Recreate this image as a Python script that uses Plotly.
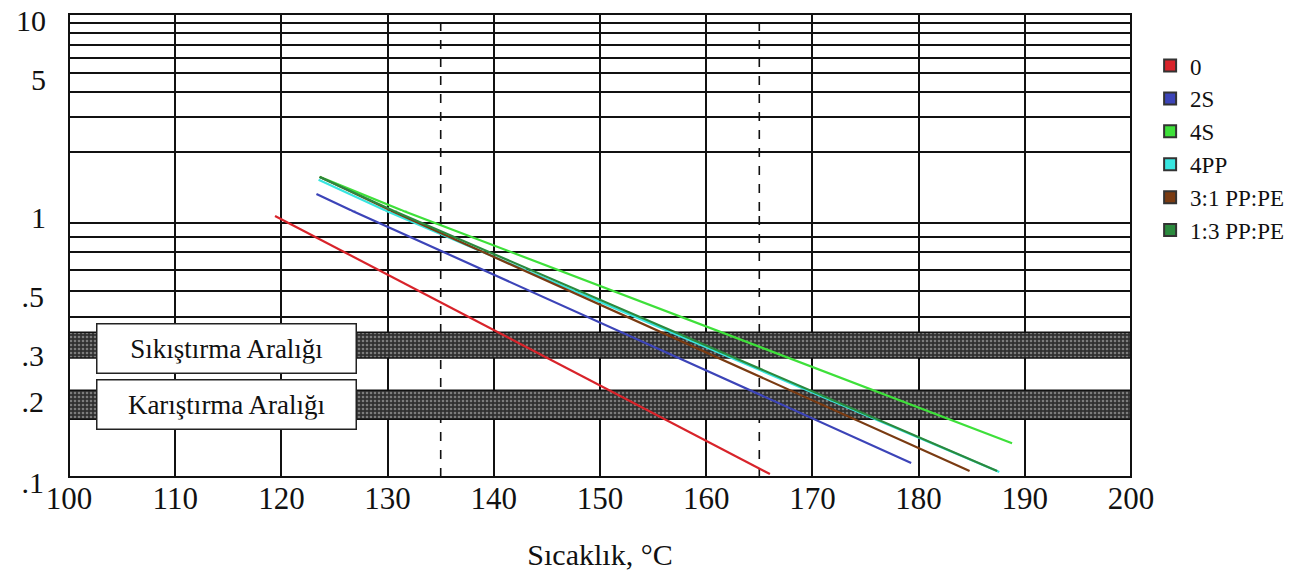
import math
import plotly.graph_objects as go

# ---- data ----
series_names = ["0", "2S", "4S", "4PP", "3:1 PP:PE", "1:3 PP:PE"]
series_colors = ["#d8232a", "#3c44b8", "#3ee03a", "#38e6e0", "#7a3b12", "#2b8a3e"]
# temperature (°C) and value at start, crossing of 1 (where present) and end
x_0 = [119.4, 166.0]
y_0 = [0.958, 0.1026]
x_2s = [123.3, 126.7, 179.3]
y_2s = [1.22, 1.0, 0.113]
x_4s = [123.6, 131.5, 188.8]
y_4s = [1.49, 1.0, 0.134]
x_4pp = [123.5, 129.9, 187.6]
y_4pp = [1.44, 1.0, 0.1044]
x_31 = [123.6, 130.4, 184.8]
y_31 = [1.49, 1.0, 0.1053]
x_13 = [123.6, 130.6, 187.4]
y_13 = [1.49, 1.0, 0.1053]

x_ticks = [100, 110, 120, 130, 140, 150, 160, 170, 180, 190, 200]
y_ticks_low = [0.1, 0.2, 0.3, 0.5]
y_ticktext_low = [".1", ".2", ".3", ".5"]
y_ticks_high = [1, 5, 10]
y_ticktext_high = ["1", "5", "10"]
y_grid_low = [0.1, 0.2, 0.3, 0.4, 0.5, 0.6, 0.7, 0.8, 0.9, 1]
y_grid_high = [1, 2, 3, 4, 5, 6, 7, 8, 9, 10]
dashed_x = [135, 165]

band_names = ["Sıkıştırma Aralığı", "Karıştırma Aralığı"]
band_low = [0.28, 0.165]
band_high = [0.35, 0.212]
band_label_y = [0.305, 0.1866]

xs = [x_0, x_2s, x_4s, x_4pp, x_31, x_13]
ys = [y_0, y_2s, y_4s, y_4pp, y_31, y_13]

FONT = "Liberation Serif"
SPLIT = 266 / 463  # share of height taken by the 0.1–1 decade in the drawing

fig = go.Figure()

# dashed verticals (both decades)
for dx in dashed_x:
    for ya, grid in (("y", y_grid_low), ("y2", y_grid_high)):
        fig.add_trace(go.Scatter(x=[dx, dx], y=[grid[0], grid[-1]], yaxis=ya, mode="lines",
                                 line=dict(color="#111", width=1.6, dash="dash"),
                                 showlegend=False, hoverinfo="skip"))

# hatched bands
for lo, hi in zip(band_low, band_high):
    fig.add_trace(go.Scatter(
        x=[x_ticks[0], x_ticks[-1], x_ticks[-1], x_ticks[0], x_ticks[0]],
        y=[lo, lo, hi, hi, lo],
        mode="lines", fill="toself",
        line=dict(color="#111", width=1.5),
        fillcolor="#3a3a3a",
        fillpattern=dict(shape=".", fgcolor="#c8c8c8", bgcolor="#303030", size=4, solidity=0.35),
        showlegend=False, hoverinfo="skip",
    ))

# series lines (drawn on both decades, each clipped to its own part)
for name, col, xv, yv in zip(series_names, series_colors, xs, ys):
    for ya in ("y", "y2"):
        fig.add_trace(go.Scatter(x=xv, y=yv, yaxis=ya, mode="lines",
                                 line=dict(color=col, width=2.2),
                                 name=name, showlegend=False, hoverinfo="x+y+name"))
    fig.add_trace(go.Scatter(x=[None], y=[None], mode="markers", name=name,
                             marker=dict(symbol="square", size=10, color=col,
                                         line=dict(color="#333", width=0.5))))

# band labels
for name, ly in zip(band_names, band_label_y):
    fig.add_annotation(
        x=0.148, xref="x domain", xanchor="center",
        y=math.log10(ly), yref="y", yanchor="middle",
        text=name, showarrow=False,
        font=dict(family=FONT, size=27, color="#111"),
        bgcolor="white", bordercolor="#222", borderwidth=1.5, borderpad=9,
        width=240,
    )

# outer frame
fig.add_shape(type="rect", xref="paper", yref="paper", x0=0, x1=1, y0=0, y1=1,
              line=dict(color="#111", width=2), layer="above")

grid_common = dict(showgrid=True, gridcolor="#111", gridwidth=2, zeroline=False,
                   automargin=False, showline=False, ticks="",
                   ticklabeloverflow="allow")

fig.update_layout(
    width=1307, height=575,
    margin=dict(l=61, r=184, t=6, b=106),
    plot_bgcolor="white", paper_bgcolor="white",
    font=dict(family=FONT, color="#111"),
    showlegend=True,
    legend=dict(x=1.018, y=0.935, xanchor="left", yanchor="top",
                font=dict(family=FONT, size=23, color="#111"),
                itemsizing="constant"),
    xaxis=dict(range=[100, 200], tickvals=x_ticks, anchor="y",
               tickfont=dict(family=FONT, size=31),
               title=dict(text="Sıcaklık, °C", font=dict(family=FONT, size=30), standoff=28),
               **grid_common),
    yaxis=dict(type="log", range=[-1, 0], domain=[0, SPLIT],
               tickvals=y_ticks_low, ticktext=y_ticktext_low,
               tickfont=dict(family=FONT, size=30), ticklabelstandoff=24, ticklabelshift=5,
               minor=dict(tickvals=y_grid_low, showgrid=True, gridcolor="#111", gridwidth=2),
               **grid_common),
    yaxis2=dict(type="log", range=[0, 1], domain=[SPLIT, 1], anchor="x",
                tickvals=y_ticks_high, ticktext=y_ticktext_high,
                tickfont=dict(family=FONT, size=30), ticklabelstandoff=22, ticklabelshift=6,
                minor=dict(tickvals=y_grid_high, showgrid=True, gridcolor="#111", gridwidth=2),
                **grid_common),
)

fig.write_html("out.html")
